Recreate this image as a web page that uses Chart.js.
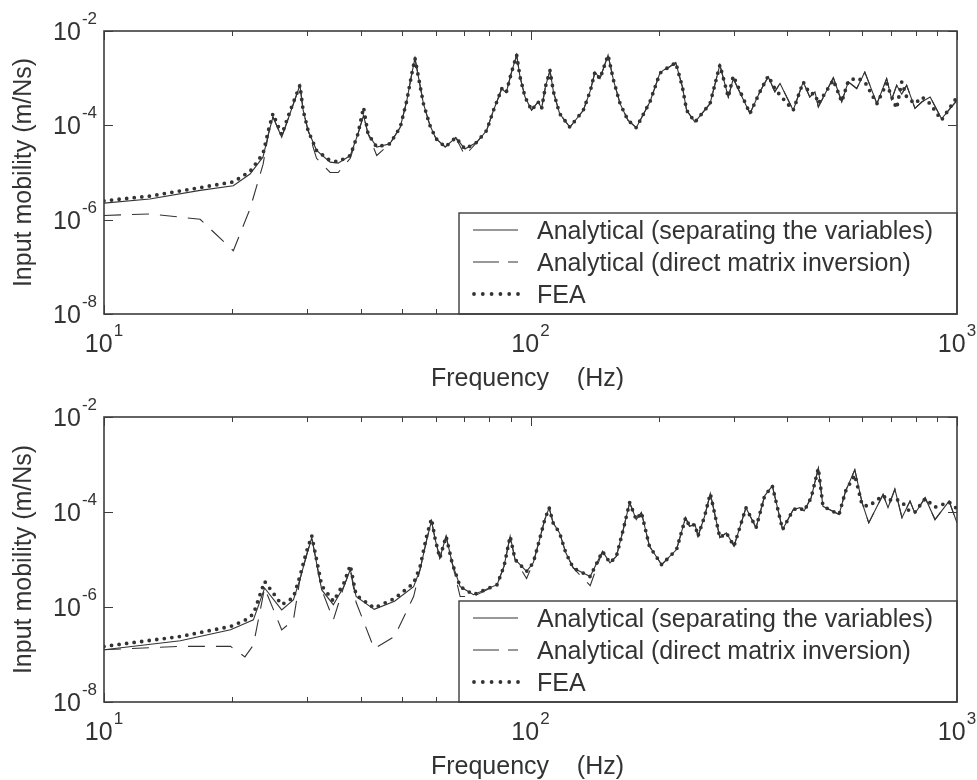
<!DOCTYPE html>
<html>
<head>
<meta charset="utf-8">
<script src="https://cdn.jsdelivr.net/npm/chart.js@4.4.1/dist/chart.umd.min.js"></script>
<style>
  html, body { margin: 0; padding: 0; background: #ffffff; }
  #wrap { position: relative; width: 977px; height: 780px; background: #fff; }
  canvas { position: absolute; left: 0; }
  #c1 { top: 0; }
  #c2 { top: 390px; }
</style>
</head>
<body>
<div id="wrap">
  <canvas id="c1" width="977" height="390"></canvas>
  <canvas id="c2" width="977" height="390"></canvas>
</div>
<script>
// ---------- DATA ----------
const seriesLabels = ['Analytical (separating the variables)', 'Analytical (direct matrix inversion)', 'FEA'];
const xTickValues = [10, 100, 1000];
const xTickExps = ['1', '2', '3'];
const xMinorTicks = [20, 30, 40, 50, 60, 70, 80, 90, 200, 300, 400, 500, 600, 700, 800, 900];
const yTickValues = [1e-8, 1e-6, 1e-4, 1e-2];
const yTickExps = ['-8', '-6', '-4', '-2'];
const xTitle = 'Frequency    (Hz)';
const yTitle = 'Input mobility (m/Ns)';

// Top panel
const topFreq = [10, 12.8, 16.8, 20.1, 22, 23.6, 24.3, 24.9, 26.1, 27.3,
  28.8, 29.3, 30.1, 31.5, 33.9, 35.4, 37.8, 39.4, 40.6, 41.6,
  43.6, 46.8, 49.5, 51.3, 52.7, 53.6, 54.6, 56.1, 58.1, 60.0,
  63.1, 66.8, 70.2, 74.8, 78.9, 81.9, 84.2, 85.6, 87.7, 90.1,
  92.8, 94.5, 97.1, 100.6, 104.2, 106.2, 108.4, 111.1, 113.2, 117,
  123.7, 133, 138.2, 141.6, 145.5, 152, 156.5, 162.2, 169.2, 177,
  190.6, 201, 205, 212, 219, 227, 232.3, 243, 263.6, 278,
  290.9, 298.9, 327, 345, 361, 374, 384.6, 413, 436, 451.6,
  464.5, 473, 513, 536.7, 556, 582, 608, 649, 684, 703,
  722, 742, 762, 797, 828, 865, 920, 1000];
const topSeparated = [2.24e-6, 2.75e-6, 4.17e-6, 5.25e-6, 9.3e-6, 2.14e-5, 6.6e-5, 1.51e-4, 5.62e-5, 1.78e-4,
  7.08e-4, 2.09e-4, 7.76e-5, 2.95e-5, 1.66e-5, 1.58e-5, 2.29e-5, 6.61e-5, 1.62e-4, 6.61e-5,
  3.47e-5, 4.07e-5, 9.12e-5, 3.39e-4, 1.26e-3, 2.63e-3, 1.07e-3, 2.88e-4, 1.0e-4, 5.25e-5,
  3.47e-5, 5.5e-5, 3.16e-5, 4.37e-5, 7.76e-5, 2.09e-4, 3.98e-4, 6.03e-4, 4.9e-4, 1.26e-3,
  3.09e-3, 1.07e-3, 3.98e-4, 2.09e-4, 3.16e-4, 2.29e-4, 6.61e-4, 1.45e-3, 5.13e-4, 1.78e-4,
  9.12e-5, 2.09e-4, 5.5e-4, 1.35e-3, 9.77e-4, 3.09e-3, 9.12e-4, 2.88e-4, 1.29e-4, 8.91e-5,
  3.16e-4, 1.26e-3, 1.48e-3, 1.74e-3, 2.14e-3, 6.61e-4, 2.09e-4, 1.17e-4, 2.88e-4, 1.91e-3,
  3.98e-4, 9.77e-4, 1.78e-4, 5.13e-4, 1.07e-3, 5.13e-4, 7.76e-4, 2.09e-4, 8.32e-4, 3.98e-4,
  5.13e-4, 2.45e-4, 1.02e-3, 3.16e-4, 8.32e-4, 6.03e-4, 1.35e-3, 2.88e-4, 9.77e-4, 3.55e-4,
  7.08e-4, 4.57e-4, 7.08e-4, 2.29e-4, 3.16e-4, 3.98e-4, 1.38e-4, 3.39e-4];
const topDirect = [1.23e-6, 1.32e-6, 1.02e-6, 2.19e-7, 1.7e-6, 1.48e-5, 6.6e-5, 1.51e-4, 5.62e-5, 1.78e-4,
  7.08e-4, 2.09e-4, 7.76e-5, 2.0e-5, 1.0e-5, 1.0e-5, 2.0e-5, 6.61e-5, 1.62e-4, 6.61e-5,
  2.29e-5, 4.07e-5, 9.12e-5, 3.39e-4, 1.26e-3, 2.63e-3, 1.07e-3, 2.88e-4, 1.0e-4, 5.25e-5,
  3.47e-5, 5.5e-5, 2.29e-5, 4.37e-5, 7.76e-5, 2.09e-4, 3.98e-4, 6.03e-4, 4.9e-4, 1.26e-3,
  3.09e-3, 1.07e-3, 3.98e-4, 2.09e-4, 3.16e-4, 2.29e-4, 6.61e-4, 1.45e-3, 5.13e-4, 1.78e-4,
  9.12e-5, 2.09e-4, 5.5e-4, 1.35e-3, 9.77e-4, 3.09e-3, 9.12e-4, 2.88e-4, 1.29e-4, 8.91e-5,
  3.16e-4, 1.26e-3, 1.48e-3, 1.74e-3, 2.14e-3, 6.61e-4, 2.09e-4, 1.17e-4, 2.88e-4, 1.91e-3,
  3.98e-4, 9.77e-4, 1.78e-4, 5.13e-4, 1.07e-3, 5.13e-4, 7.76e-4, 2.09e-4, 8.32e-4, 3.98e-4,
  5.13e-4, 2.45e-4, 1.02e-3, 3.16e-4, 8.32e-4, 6.03e-4, 1.35e-3, 2.88e-4, 9.77e-4, 3.55e-4,
  7.08e-4, 4.57e-4, 7.08e-4, 2.29e-4, 3.16e-4, 3.98e-4, 1.38e-4, 3.39e-4];
const topFEA = [2.51e-6, 3.16e-6, 4.79e-6, 6.31e-6, 1.05e-5, 2.51e-5, 7.94e-5, 1.78e-4, 6.31e-5, 2.0e-4,
  7.08e-4, 2.09e-4, 7.76e-5, 2.95e-5, 1.78e-5, 1.7e-5, 2.29e-5, 6.61e-5, 2.4e-4, 6.61e-5,
  3.47e-5, 4.07e-5, 9.12e-5, 3.39e-4, 1.26e-3, 2.63e-3, 1.07e-3, 2.88e-4, 1.0e-4, 5.25e-5,
  3.47e-5, 5.5e-5, 3.16e-5, 4.37e-5, 7.76e-5, 2.09e-4, 3.98e-4, 6.03e-4, 4.9e-4, 1.26e-3,
  3.09e-3, 1.07e-3, 3.98e-4, 2.09e-4, 3.16e-4, 2.29e-4, 6.61e-4, 1.45e-3, 5.13e-4, 1.78e-4,
  9.12e-5, 2.09e-4, 5.5e-4, 1.35e-3, 9.77e-4, 3.09e-3, 9.12e-4, 2.88e-4, 1.29e-4, 8.91e-5,
  3.16e-4, 1.26e-3, 1.48e-3, 1.74e-3, 2.14e-3, 6.61e-4, 2.09e-4, 1.17e-4, 2.88e-4, 1.91e-3,
  3.98e-4, 1.12e-3, 1.78e-4, 5.13e-4, 1.12e-3, 6.03e-4, 4.37e-4, 2.09e-4, 8.32e-4, 4.68e-4,
  4.68e-4, 2.88e-4, 9.12e-4, 3.16e-4, 8.71e-4, 1.02e-3, 8.32e-4, 2.88e-4, 7.76e-4, 3.98e-4,
  2.29e-4, 8.32e-4, 3.98e-4, 2.88e-4, 3.98e-4, 2.88e-4, 1.29e-4, 3.98e-4];

// Bottom panel
const botFreq = [10, 15.1, 19.8, 21.4, 22.4, 23.8, 26.1, 27.8, 28.8, 29.8,
  30.7, 31.5, 32.4, 34.5, 36.5, 37.8, 39, 43, 48, 53.2,
  55.1, 57.1, 58.6, 59.8, 61.3, 63.4, 65.5, 68.4, 73.5, 83.5,
  86.7, 89.6, 92, 97.9, 101.5, 105, 108, 110.6, 113, 117,
  121, 126, 138, 147.5, 153.6, 159, 165, 170.8, 177, 182,
  190, 203, 220, 231, 236, 243, 247, 256, 264, 278,
  288, 300, 320, 338, 354, 369, 390, 413, 428, 438,
  455, 473, 485, 529, 548, 576, 599, 621, 671, 689,
  715, 743, 776, 797, 842, 888, 958, 1000];
const botSeparated = [1.26e-7, 1.95e-7, 3.31e-7, 4.47e-7, 5.37e-7, 2.51e-6, 8.71e-7, 1.41e-6, 3.8e-6, 1.17e-5,
  2.88e-5, 8.51e-6, 2.29e-6, 1.12e-6, 2.69e-6, 6.17e-6, 1.66e-6, 8.91e-7, 1.32e-6, 2.69e-6,
  6.17e-6, 2.63e-5, 6.46e-5, 2.63e-5, 1.07e-5, 3.09e-5, 8.51e-6, 2.69e-6, 1.82e-6, 2.95e-6,
  7.24e-6, 3.09e-5, 1.0e-5, 5.62e-6, 8.51e-6, 2.63e-5, 6.92e-5, 1.23e-4, 5.89e-5, 3.63e-5,
  1.38e-5, 6.61e-6, 4.37e-6, 1.48e-5, 8.51e-6, 1.17e-5, 4.27e-5, 1.58e-4, 6.92e-5, 9.77e-5,
  1.91e-5, 7.76e-6, 1.62e-5, 7.59e-5, 5.01e-5, 5.5e-5, 3.09e-5, 8.13e-5, 2.45e-4, 2.88e-5,
  3.63e-5, 1.91e-5, 1.23e-4, 4.68e-5, 2.19e-4, 3.55e-4, 4.27e-5, 1.12e-4, 1.23e-4, 1.05e-4,
  2.0e-4, 8.32e-4, 1.32e-4, 8.91e-5, 2.75e-4, 7.76e-4, 1.58e-4, 5.89e-5, 2.34e-4, 1.23e-4,
  3.02e-4, 7.59e-5, 1.7e-4, 9.33e-5, 2.0e-4, 6.92e-5, 1.7e-4, 5.89e-5];
const botDirect = [1.26e-7, 1.48e-7, 1.48e-7, 8.91e-8, 1.58e-7, 2.51e-6, 3.31e-7, 5.25e-7, 3.8e-6, 1.17e-5,
  2.88e-5, 8.51e-6, 2.29e-6, 5.37e-7, 2.69e-6, 6.17e-6, 1.26e-6, 1.32e-7, 2.4e-7, 1.66e-6,
  6.17e-6, 2.63e-5, 6.46e-5, 2.63e-5, 1.07e-5, 3.09e-5, 8.51e-6, 1.66e-6, 1.66e-6, 2.95e-6,
  7.24e-6, 3.09e-5, 1.0e-5, 3.98e-6, 8.51e-6, 2.63e-5, 6.92e-5, 1.23e-4, 5.89e-5, 3.63e-5,
  1.38e-5, 6.61e-6, 2.82e-6, 1.48e-5, 8.51e-6, 1.17e-5, 4.27e-5, 1.58e-4, 6.92e-5, 9.77e-5,
  1.91e-5, 7.76e-6, 1.62e-5, 7.59e-5, 5.01e-5, 5.5e-5, 3.09e-5, 8.13e-5, 2.45e-4, 2.88e-5,
  3.63e-5, 1.91e-5, 1.23e-4, 4.68e-5, 2.19e-4, 3.55e-4, 4.27e-5, 1.12e-4, 1.23e-4, 1.05e-4,
  2.0e-4, 8.32e-4, 1.32e-4, 8.91e-5, 2.75e-4, 7.76e-4, 1.58e-4, 5.89e-5, 2.34e-4, 1.23e-4,
  3.02e-4, 7.59e-5, 1.7e-4, 9.33e-5, 2.0e-4, 6.92e-5, 1.7e-4, 5.89e-5];
const botFEA = [1.48e-7, 2.4e-7, 3.89e-7, 5.25e-7, 7.08e-7, 3.47e-6, 1.12e-6, 1.58e-6, 4.47e-6, 1.41e-5,
  3.16e-5, 1.0e-5, 2.82e-6, 1.32e-6, 3.16e-6, 7.59e-6, 1.78e-6, 9.55e-7, 1.51e-6, 3.16e-6,
  7.08e-6, 3.16e-5, 7.24e-5, 2.63e-5, 1.07e-5, 3.09e-5, 8.51e-6, 2.69e-6, 1.82e-6, 2.95e-6,
  7.24e-6, 3.09e-5, 1.0e-5, 5.62e-6, 8.51e-6, 2.63e-5, 6.92e-5, 1.23e-4, 5.89e-5, 3.63e-5,
  1.38e-5, 6.61e-6, 4.37e-6, 1.48e-5, 8.51e-6, 1.17e-5, 4.27e-5, 1.58e-4, 6.92e-5, 9.77e-5,
  1.91e-5, 7.76e-6, 1.62e-5, 7.59e-5, 5.01e-5, 5.5e-5, 3.09e-5, 8.13e-5, 2.45e-4, 2.88e-5,
  3.63e-5, 1.91e-5, 1.23e-4, 4.68e-5, 2.19e-4, 3.55e-4, 4.27e-5, 1.12e-4, 1.23e-4, 1.05e-4,
  2.0e-4, 8.32e-4, 1.32e-4, 8.91e-5, 2.75e-4, 6.03e-4, 1.41e-4, 1.32e-4, 2.24e-4, 1.74e-4,
  1.91e-4, 1.62e-4, 1.0e-4, 1.0e-4, 1.91e-4, 1.26e-4, 1.62e-4, 1.17e-4];

// ---------- STYLE ----------
const INK = '#333333';
const FRAME = '#3d3d3d';
const FONT = '"Liberation Sans", Arial, Helvetica, sans-serif';

function pts(f, v) { return f.map((x, i) => ({ x: x, y: v[i] })); }

function drawPow(ctx, exp, x, yBase, align) {
  ctx.save();
  ctx.fillStyle = INK;
  ctx.textAlign = 'left';
  ctx.textBaseline = 'alphabetic';
  ctx.font = '25px ' + FONT;
  const wb = ctx.measureText('10').width;
  ctx.font = '17px ' + FONT;
  const we = ctx.measureText(exp).width;
  const total = wb + 1 + we;
  const left = align === 'right' ? x - total : x - total / 2;
  ctx.font = '25px ' + FONT;
  ctx.fillText('10', left, yBase);
  ctx.font = '17px ' + FONT;
  ctx.fillText(exp, left + wb + 1, yBase - 16);
  ctx.restore();
}

const axesPlugin = {
  id: 'matlabAxes',
  afterDatasetsDraw(chart) {
    const ctx = chart.ctx;
    const a = chart.chartArea;
    const xs = chart.scales.x, ys = chart.scales.y;
    ctx.save();
    // legend box (opaque)
    const lx = 459, lh = 101;
    const ly = a.bottom - lh;
    ctx.fillStyle = '#ffffff';
    ctx.fillRect(lx, ly, a.right - lx, lh);
    ctx.strokeStyle = FRAME;
    ctx.lineWidth = 1.4;
    ctx.strokeRect(lx, ly, a.right - lx, lh);
    const rows = [ly + 26, ly + 58, ly + 90];
    const sx0 = lx + 14, sx1 = lx + 59;
    ctx.lineCap = 'butt';
    // solid sample
    ctx.strokeStyle = INK; ctx.lineWidth = 1.1; ctx.setLineDash([]);
    ctx.beginPath(); ctx.moveTo(sx0, rows[0] - 9); ctx.lineTo(sx1, rows[0] - 9); ctx.stroke();
    // dashed sample
    ctx.setLineDash([26, 9]);
    ctx.beginPath(); ctx.moveTo(sx0, rows[1] - 9); ctx.lineTo(sx1, rows[1] - 9); ctx.stroke();
    // dotted sample
    ctx.setLineDash([]);
    ctx.fillStyle = INK;
    for (let k = 0; k < 6; k++) {
      ctx.beginPath(); ctx.arc(sx0 + 1 + k * 8.8, rows[2] - 9, 1.9, 0, Math.PI * 2); ctx.fill();
    }
    ctx.font = '25px ' + FONT;
    ctx.textAlign = 'left'; ctx.textBaseline = 'alphabetic';
    for (let k = 0; k < 3; k++) ctx.fillText(seriesLabels[k], lx + 78, rows[k]);

    // frame
    ctx.strokeStyle = FRAME; ctx.lineWidth = 1.6; ctx.setLineDash([]);
    ctx.strokeRect(a.left, a.top, a.right - a.left, a.bottom - a.top);
    // ticks
    ctx.lineWidth = 1;
    ctx.beginPath();
    xMinorTicks.forEach(v => {
      const px = Math.round(xs.getPixelForValue(v)) + 0.5;
      ctx.moveTo(px, a.top); ctx.lineTo(px, a.top + 5);
      if (px < lx || chart.canvas.id === 'none') { ctx.moveTo(px, a.bottom); ctx.lineTo(px, a.bottom - 5); }
    });
    xTickValues.forEach(v => {
      const px = Math.round(xs.getPixelForValue(v)) + 0.5;
      ctx.moveTo(px, a.top); ctx.lineTo(px, a.top + 9);
      if (px < lx) { ctx.moveTo(px, a.bottom); ctx.lineTo(px, a.bottom - 9); }
    });
    yTickValues.forEach(v => {
      const py = Math.round(ys.getPixelForValue(v)) + 0.5;
      ctx.moveTo(a.left, py); ctx.lineTo(a.left + 9, py);
      if (py < ly) { ctx.moveTo(a.right, py); ctx.lineTo(a.right - 9, py); }
    });
    ctx.stroke();
    ctx.restore();
  },
  afterDraw(chart) {
    const ctx = chart.ctx;
    const a = chart.chartArea;
    const xs = chart.scales.x, ys = chart.scales.y;
    yTickValues.forEach((v, i) => {
      const py = ys.getPixelForValue(v);
      drawPow(ctx, yTickExps[i], 97, py + 9, 'right');
    });
    xTickValues.forEach((v, i) => {
      const px = xs.getPixelForValue(v);
      drawPow(ctx, xTickExps[i], px, a.bottom + 38, 'center');
    });
    ctx.save();
    ctx.fillStyle = INK;
    ctx.font = '25px ' + FONT;
    ctx.textAlign = 'center'; ctx.textBaseline = 'alphabetic';
    ctx.fillText(xTitle, (a.left + a.right) / 2 - 3, a.bottom + 72);
    ctx.translate(31, (a.top + a.bottom) / 2);
    ctx.rotate(-Math.PI / 2);
    ctx.fillText(yTitle, 0, 0);
    ctx.restore();
  }
};

function makeChart(id, freq, sep, dir, fea, pad) {
  return new Chart(document.getElementById(id), {
    type: 'line',
    data: {
      datasets: [
        { label: seriesLabels[2], data: pts(freq, fea), borderColor: INK, borderWidth: 3.8,
          borderDash: [0, 7.6], borderCapStyle: 'round', order: 0 },
        { label: seriesLabels[0], data: pts(freq, sep), borderColor: INK, borderWidth: 1.1, order: 1 },
        { label: seriesLabels[1], data: pts(freq, dir), borderColor: INK, borderWidth: 1.1,
          borderDash: [17, 11], order: 2 }
      ]
    },
    options: {
      responsive: false,
      animation: false,
      devicePixelRatio: 1,
      layout: { padding: pad },
      elements: { point: { radius: 0 }, line: { tension: 0, fill: false } },
      plugins: { legend: { display: false }, tooltip: { enabled: false } },
      scales: {
        x: { type: 'logarithmic', min: 10, max: 1000, display: false },
        y: { type: 'logarithmic', min: 1e-8, max: 1e-2, display: false }
      }
    },
    plugins: [axesPlugin]
  });
}

makeChart('c1', topFreq, topSeparated, topDirect, topFEA, { left: 104, right: 20, top: 31, bottom: 76 });
makeChart('c2', botFreq, botSeparated, botDirect, botFEA, { left: 104, right: 20, top: 27, bottom: 78 });
</script>
</body>
</html>
